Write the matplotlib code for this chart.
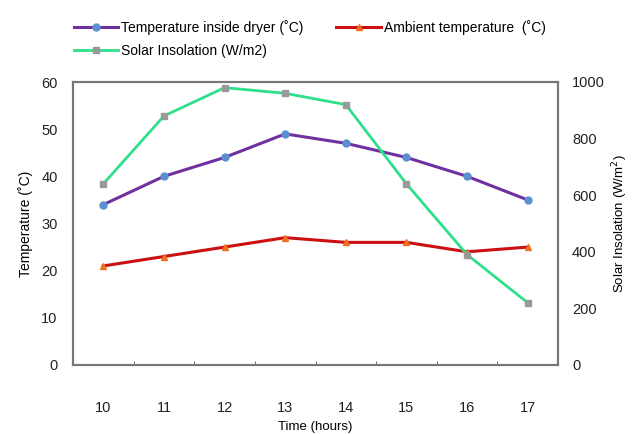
import numpy as np
import matplotlib.pyplot as plt

plt.rcParams['font.family'] = ['Liberation Sans', 'DejaVu Sans']

# time (hours)
hours = [10, 11, 12, 13, 14, 15, 16, 17]
# temperatures (deg C)
t_dryer = [34, 40, 44, 49, 47, 44, 40, 35]
t_ambient = [21, 23, 25, 27, 26, 26, 24, 25]
# solar insolation (W/m2)
solar = [640, 880, 980, 960, 920, 640, 390, 220]

fig = plt.figure(figsize=(6.34, 4.34), dpi=100)
ax = fig.add_axes([73/634, 1 - 365/434, 485/634, 283/434])
ax2 = ax.twinx()

l1, = ax.plot(hours, t_dryer, color='#7030A0', lw=2.2, marker='o', ms=5,
              mfc='#5B8FD0', mec='#5B8FD0', label='Temperature inside dryer (˚C)')
l2, = ax.plot(hours, t_ambient, color='#CC1010', lw=2.2, marker='^', ms=5,
              mfc='#F07020', mec='#F07020', label='Ambient temperature  (˚C)')
l3, = ax2.plot(hours, solar, color='#2EE08A', lw=2.0, marker='s', ms=5,
               mfc='#999999', mec='#999999', label='Solar Insolation (W/m2)')

ax.set_xlim(9.5, 17.5)
ax.set_ylim(0, 60)
ax2.set_ylim(0, 1000)
ax.set_xticks(hours)
ax.set_xticks(np.arange(9.5, 17.6, 0.5), minor=True)
ax.set_yticks(range(0, 61, 10))
ax2.set_yticks(range(0, 1001, 200))

ax.tick_params(axis='x', which='major', length=0, pad=26, labelsize=10.5, colors='#222222')
ax.tick_params(axis='x', which='minor', direction='in', length=3, color='#555555')
ax.tick_params(axis='y', length=0, pad=11, labelsize=10.5, colors='#222222')
ax2.tick_params(axis='y', length=0, pad=10, labelsize=10.5, colors='#222222')

for a in (ax, ax2):
    for s in a.spines.values():
        s.set_color('#777777')
        s.set_linewidth(1.5)

ax.set_xlabel('Time (hours)', fontsize=9.5, labelpad=4)
ax.set_ylabel('Temperature (˚C)', fontsize=10, labelpad=6)
ax2.set_ylabel('Solar Insolation (W/m$^2$)', fontsize=9.5, labelpad=4)

fig.legend(handles=[l1, l3, l2], loc='upper left', bbox_to_anchor=(68/634, 1 - 14/434),
           ncol=2, frameon=False, fontsize=10, handlelength=3.2, handletextpad=0.2,
           columnspacing=2.4, labelspacing=0.7, borderaxespad=0)

fig.savefig('out.png', dpi=100)
